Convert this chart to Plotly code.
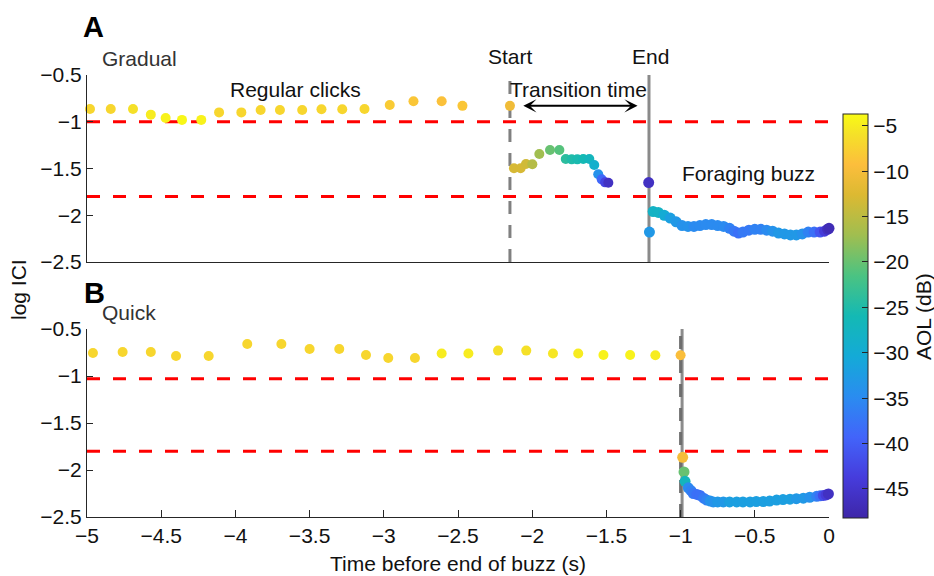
import plotly.graph_objects as go

# ---------------- data ----------------
# Panel A (Gradual) - regular clicks
a_reg_t = [-4.98, -4.84, -4.69, -4.57, -4.47, -4.36, -4.23, -4.11, -3.96, -3.83,
           -3.70, -3.55, -3.42, -3.28, -3.13, -2.96, -2.80, -2.61, -2.47, -2.15]
a_reg_ici = [-0.864, -0.864, -0.864, -0.924, -0.96, -0.98, -0.98, -0.90, -0.90, -0.874,
             -0.874, -0.874, -0.867, -0.867, -0.864, -0.82, -0.78, -0.78, -0.83, -0.83]
a_reg_aol = [-7, -7, -6, -5, -4.5, -4, -4.5, -7, -7, -7,
             -7, -7, -7, -7, -7, -8, -8.5, -9, -8.5, -10.5]

# Panel A - transition clicks
a_tr_t = [-2.123, -2.078, -2.042, -1.999, -1.952, -1.880, -1.817, -1.774, -1.734,
          -1.696, -1.656, -1.615, -1.582, -1.555, -1.532, -1.509, -1.487]
a_tr_ici = [-1.498, -1.498, -1.452, -1.455, -1.345, -1.302, -1.302, -1.398, -1.402,
            -1.402, -1.398, -1.398, -1.463, -1.562, -1.616, -1.648, -1.652]
a_tr_aol = [-13, -13, -13.5, -15.5, -17, -20, -21, -24, -25,
            -25.5, -26, -27, -29, -34, -39, -43, -46]

# Panel A - foraging buzz
a_bz_t = [-1.215, -1.21, -1.185, -1.15, -1.11, -1.07, -1.03, -0.99, -0.95, -0.91, -0.87,
          -0.83, -0.79, -0.75, -0.71, -0.67, -0.64, -0.61, -0.58, -0.54, -0.50,
          -0.46, -0.42, -0.38, -0.34, -0.30, -0.26, -0.22, -0.18, -0.14, -0.10,
          -0.06, -0.03, -0.01, 0.0]
a_bz_ici = [-1.65, -2.18, -1.96, -1.97, -2.00, -2.03, -2.07, -2.11, -2.12, -2.12, -2.11,
            -2.10, -2.10, -2.11, -2.12, -2.14, -2.17, -2.19, -2.18, -2.16, -2.15,
            -2.15, -2.16, -2.17, -2.19, -2.20, -2.21, -2.21, -2.20, -2.18, -2.18,
            -2.18, -2.17, -2.15, -2.14]
a_bz_aol = [-46, -33, -28, -28, -30, -32, -33, -34, -34, -35, -35,
            -35, -35, -35, -35, -36, -37, -38, -37, -37, -36,
            -36, -35, -34, -33, -33, -33, -33, -34, -36, -38,
            -41, -44, -46, -47]

# Panel B (Quick) - regular clicks
b_reg_t = [-4.96, -4.76, -4.57, -4.40, -4.18, -3.92, -3.69, -3.50, -3.30, -3.12,
           -2.97, -2.79, -2.61, -2.43, -2.23, -2.04, -1.86, -1.69, -1.52, -1.34,
           -1.17, -1.00]
b_reg_ici = [-0.755, -0.745, -0.745, -0.787, -0.787, -0.66, -0.66, -0.713, -0.713, -0.777,
             -0.808, -0.808, -0.76, -0.76, -0.73, -0.73, -0.76, -0.76, -0.777, -0.777,
             -0.78, -0.78]
b_reg_aol = [-7, -7, -7, -7, -7, -7, -7, -7, -7, -7,
             -7, -7, -5, -5, -6, -6, -5.5, -5, -4.5, -4.5,
             -5, -9.5]

# Panel B - foraging buzz
b_bz_t = [-0.986, -0.977, -0.970, -0.948, -0.93, -0.914, -0.89, -0.869, -0.845, -0.824,
          -0.80, -0.78, -0.75, -0.712, -0.67, -0.622, -0.58, -0.532, -0.49, -0.443,
          -0.40, -0.353, -0.31, -0.263, -0.22, -0.173, -0.13, -0.083, -0.06, -0.038,
          -0.02, -0.004]
b_bz_ici = [-1.865, -2.02, -2.12, -2.19, -2.22, -2.25, -2.26, -2.27, -2.30, -2.32,
            -2.33, -2.34, -2.34, -2.34, -2.34, -2.34, -2.34, -2.34, -2.335, -2.335,
            -2.33, -2.32, -2.315, -2.31, -2.305, -2.30, -2.29, -2.28, -2.275, -2.27,
            -2.265, -2.255]
b_bz_aol = [-10, -20, -27, -35, -36, -37, -38, -38, -37, -36,
            -34, -34, -33, -33, -32, -32, -32, -32, -32, -32,
            -32, -32, -32, -32, -33, -33, -34, -36, -38, -42,
            -44, -46]

thr_a = [-1.0, -1.8]
thr_b = [-1.03, -1.8]
a_start, a_end = -2.15, -1.213
b_start, b_end = -1.0, -0.99
arrow_t = [-2.07, -1.29]
arrow_ici = -0.83

y_ticks = [-2.5, -2, -1.5, -1, -0.5]
x_ticks = [-5, -4.5, -4, -3.5, -3, -2.5, -2, -1.5, -1, -0.5, 0]
cb_ticks = [-45, -40, -35, -30, -25, -20, -15, -10, -5]
aol_min, aol_max = -48.2, -3.7

# approx. MATLAB parula
parula = [
    [0.0, "rgb(62,38,168)"], [0.1, "rgb(70,60,220)"], [0.2, "rgb(66,100,250)"],
    [0.3, "rgb(42,140,240)"], [0.4, "rgb(20,170,215)"], [0.5, "rgb(20,185,180)"],
    [0.6, "rgb(75,195,130)"], [0.7, "rgb(160,190,80)"], [0.8, "rgb(220,185,50)"],
    [0.875, "rgb(252,190,60)"], [0.95, "rgb(245,225,40)"], [1.0, "rgb(249,251,20)"],
]

FONT = "Liberation Sans, Arial, Helvetica, sans-serif"
AX = "#262626"

W, H = 934, 576
PL, PR, PT, PB = 87, 829, 75, 517  # plot area in page pixels
PW, PH = PR - PL, PB - PT

def px(xp):
    return (xp - PL) / PW

def py(yp):
    return (PB - yp) / PH

fig = go.Figure()

def dots(t, v, c, xa, ya, size):
    fig.add_trace(go.Scatter(
        x=t, y=v, mode="markers", xaxis=xa, yaxis=ya, showlegend=False,
        marker=dict(size=size, color=c, coloraxis="coloraxis", line=dict(width=0), opacity=1),
        cliponaxis=False))

for thr_list, xa, ya in [(thr_a, "x", "y"), (thr_b, "x2", "y2")]:
    for th in thr_list:
        fig.add_trace(go.Scatter(x=[x_ticks[0], x_ticks[-1]], y=[th, th], mode="lines",
                                 xaxis=xa, yaxis=ya, showlegend=False, hoverinfo="skip",
                                 line=dict(color="#ff0000", width=3, dash="13px,13px")))

fig.add_trace(go.Scatter(x=[a_start, a_start], y=[-2.5, -0.5], mode="lines", xaxis="x", yaxis="y",
                         showlegend=False, line=dict(color="#808080", width=3, dash="13px,11px")))
fig.add_trace(go.Scatter(x=[a_end, a_end], y=[-2.5, -0.5], mode="lines", xaxis="x", yaxis="y",
                         showlegend=False, line=dict(color="#8a8a8a", width=3)))
fig.add_trace(go.Scatter(x=[b_end, b_end], y=[-2.5, -0.5], mode="lines", xaxis="x2", yaxis="y2",
                         showlegend=False, line=dict(color="#8c8c8c", width=3)))
fig.add_trace(go.Scatter(x=[b_start, b_start], y=[-2.5, -0.5], mode="lines", xaxis="x2", yaxis="y2",
                         showlegend=False, line=dict(color="#6e6e6e", width=3, dash="13px,11px")))

dots(a_reg_t, a_reg_ici, a_reg_aol, "x", "y", 10)
dots(a_tr_t, a_tr_ici, a_tr_aol, "x", "y", 10)
dots(a_bz_t, a_bz_ici, a_bz_aol, "x", "y", 11)
dots(b_reg_t, b_reg_ici, b_reg_aol, "x2", "y2", 10)
dots(b_bz_t, b_bz_ici, b_bz_aol, "x2", "y2", 11)

axis_common = dict(showgrid=False, zeroline=False, showline=True, linecolor=AX, linewidth=1,
                   tickfont=dict(family=FONT, size=21, color="#111"), mirror=False)

fig.update_layout(
    width=W, height=H,
    paper_bgcolor="white", plot_bgcolor="white",
    margin=dict(l=PL, r=W - PR, t=PT, b=H - PB),
    font=dict(family=FONT, size=21, color="#111"),
    hovermode=False,
    coloraxis=dict(
        colorscale=parula, cmin=aol_min, cmax=aol_max,
        colorbar=dict(
            x=px(843), xanchor="left", xref="paper",
            y=py(518), yanchor="bottom", yref="paper",
            len=404, lenmode="pixels", thickness=25, thicknessmode="pixels",
            xpad=0, ypad=0, outlinewidth=1, outlinecolor=AX,
            ticks="inside", ticklen=6, tickcolor=AX, tickwidth=1,
            tickvals=cb_ticks, tickfont=dict(family=FONT, size=21, color="#111"),
        ),
    ),
    xaxis=dict(domain=[0, 1], range=[-5, 0], anchor="y", showticklabels=False, ticks="",
               **axis_common),
    yaxis=dict(domain=[py(262), 1], range=[-2.5, -0.5], anchor="x",
               tickvals=y_ticks, ticks="inside", ticklen=6, tickcolor=AX, **axis_common),
    xaxis2=dict(domain=[0, 1], range=[-5, 0], anchor="y2", tickvals=x_ticks,
                ticks="inside", ticklen=7, tickcolor=AX, **axis_common),
    yaxis2=dict(domain=[0, py(329)], range=[-2.5, -0.5], anchor="x2",
                tickvals=y_ticks, ticks="inside", ticklen=6, tickcolor=AX, **axis_common),
)

def txt(x, y, s, xref="paper", yref="paper", xanchor="center", size=21, color="#111",
        bold=False, angle=0):
    fig.add_annotation(x=x, y=y, xref=xref, yref=yref, text=("<b>%s</b>" % s) if bold else s,
                       showarrow=False, xanchor=xanchor, yanchor="middle", textangle=angle,
                       font=dict(family=FONT, size=size, color=color))

txt(px(510), py(57), "Start")
txt(px(650), py(57), "End")
txt(px(578), py(89), "Transition time")
txt(px(295), py(89), "Regular clicks")
txt(px(100), py(59), "Gradual", xanchor="left", color="#333")
txt(px(748), py(173), "Foraging buzz")
txt(px(93), py(27), "A", size=29, bold=True, color="#000")
txt(px(94), py(293), "B", size=29, bold=True, color="#000")
txt(px(100), py(312), "Quick", xanchor="left", color="#333")

fig.add_annotation(x=arrow_t[1], y=arrow_ici, ax=arrow_t[0], ay=arrow_ici,
                   xref="x", yref="y", axref="x", ayref="y",
                   showarrow=True, arrowhead=3, startarrowhead=3, arrowside="end+start",
                   arrowsize=1.1, startarrowsize=1.1, arrowwidth=2, arrowcolor="#000", text="")

txt(px(18), py(290), "log ICI", angle=-90)
txt(px(458), py(563), "Time before end of buzz (s)")
txt(px(923), py(317), "AOL (dB)", angle=-90)

fig.write_html(
    "out.html",
    config={"displayModeBar": False, "staticPlot": True},
    post_script="document.body.style.margin='0px';document.body.style.overflow='hidden';",
)
